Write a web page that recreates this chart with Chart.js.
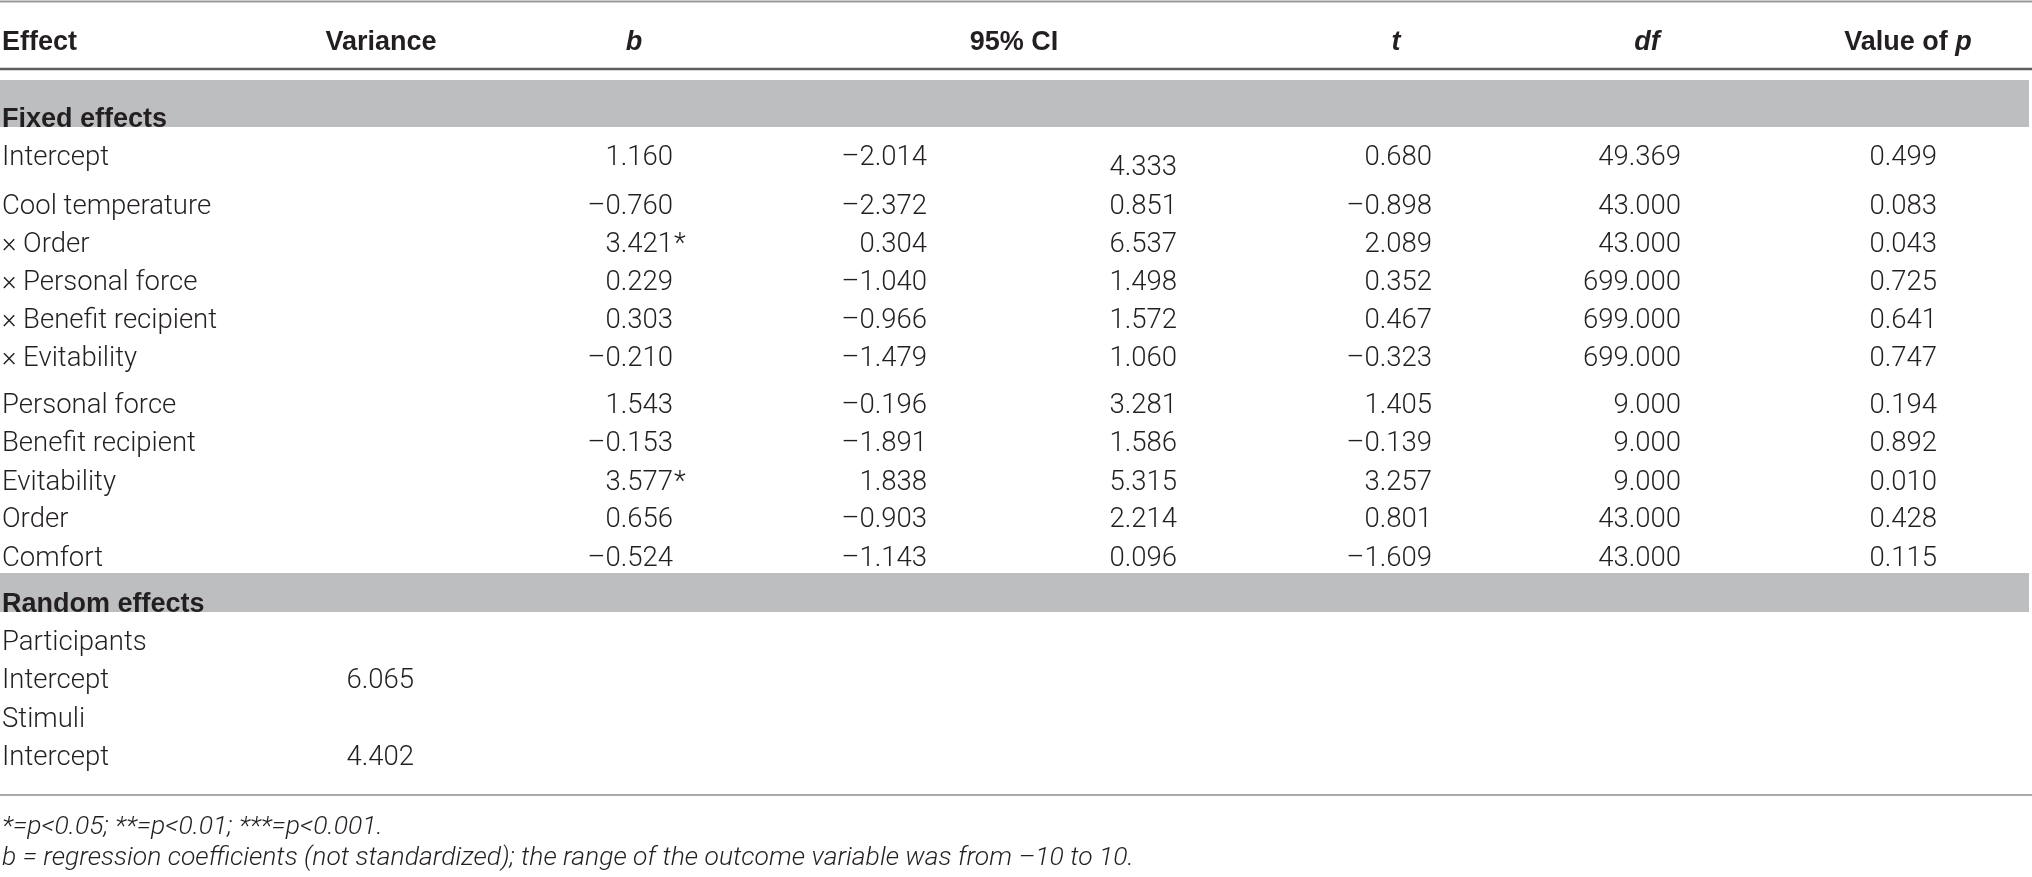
<!DOCTYPE html>
<html>
<head>
<meta charset="utf-8">
<script src="https://cdn.jsdelivr.net/npm/chart.js@4.4.1/dist/chart.umd.min.js"></script>
<style>
html, body { margin: 0; padding: 0; background: #fff; overflow: hidden; }
#wrap { width: 2032px; height: 877px; position: relative; }
</style>
</head>
<body>
<div id="wrap"><canvas id="tbl"></canvas></div>
<script>
// table contents
var headers = ["Effect", "Variance", "_b_", "95% CI", "_t_", "_df_", "Value of _p_"];
var fixedLabels = ["Intercept", "Cool temperature", "\u00d7 Order", "\u00d7 Personal force", "\u00d7 Benefit recipient", "\u00d7 Evitability",
                   "Personal force", "Benefit recipient", "Evitability", "Order", "Comfort"];
var bValues  = [1.160, -0.760, 3.421, 0.229, 0.303, -0.210, 1.543, -0.153, 3.577, 0.656, -0.524];
var ciLow    = [-2.014, -2.372, 0.304, -1.040, -0.966, -1.479, -0.196, -1.891, 1.838, -0.903, -1.143];
var ciHigh   = [4.333, 0.851, 6.537, 1.498, 1.572, 1.060, 3.281, 1.586, 5.315, 2.214, 0.096];
var tValues  = [0.680, -0.898, 2.089, 0.352, 0.467, -0.323, 1.405, -0.139, 3.257, 0.801, -1.609];
var dfValues = [49.369, 43, 43, 699, 699, 699, 9, 9, 9, 43, 43];
var pValues  = [0.499, 0.083, 0.043, 0.725, 0.641, 0.747, 0.194, 0.892, 0.010, 0.428, 0.115];
var randomLabels   = ["Participants", "Intercept", "Stimuli", "Intercept"];
var varianceValues = [null, 6.065, null, 4.402];
var sections = ["Fixed effects", "Random effects"];
var notes = ["*=p<0.05; **=p<0.01; ***=p<0.001.",
             "b = regression coefficients (not standardized); the range of the outcome variable was from \u201310 to 10."];

// layout: text baselines, in scale units (= px of the 2032x877 page)
var fixedRowY  = [165, 214, 252, 290, 328, 366, 413, 451, 490, 527, 566];
var randomRowY = [650, 688, 727, 765];
var headerY = 50, sectionY = [127, 612], noteY = [834, 865];
var bandY = [[80, 127], [573, 612]];
var headerX = [2, 381, 634, 1014, 1396, 1647, 1908];
var col = { label: 2, variance: 414, b: 673, ciLow: 927, ciHigh: 1177, t: 1432, df: 1681, p: 1937 };

var INK = '#231f20';
var BODY = 'Roboto';
var BOLD = '"Liberation Sans"';

function fmt(v) {
    var s = Math.abs(v).toFixed(3);
    return (v < 0 ? '\u2013' : '') + s;
}

function stars(p) {
    if (p < 0.001) return '***';
    if (p < 0.01) return '**';
    if (p < 0.05) return '*';
    return '';
}

// draws "a _b_ c" with the underscored bits in italic
function richText(ctx, str, x, y, weight, size, family, align) {
    var parts = str.split('_');
    var w = 0, i;
    for (i = 0; i < parts.length; i++) {
        ctx.font = (i % 2 ? 'italic ' : '') + weight + ' ' + size + 'px ' + family;
        w += ctx.measureText(parts[i]).width;
    }
    var cx = align === 'center' ? x - w / 2 : x;
    ctx.textAlign = 'left';
    for (i = 0; i < parts.length; i++) {
        ctx.font = (i % 2 ? 'italic ' : '') + weight + ' ' + size + 'px ' + family;
        ctx.fillText(parts[i], cx, y);
        cx += ctx.measureText(parts[i]).width;
    }
}

var tablePlugin = {
    id: 'tablePlugin',
    afterDraw: function (chart) {
        var ctx = chart.ctx;
        var xs = chart.scales.x, ys = chart.scales.y;
        var X = function (v) { return xs.getPixelForValue(v); };
        var Y = function (v) { return ys.getPixelForValue(v); };
        ctx.save();

        // grey section bands
        ctx.fillStyle = '#bcbec0';
        bandY.forEach(function (b) {
            ctx.fillRect(X(0), Y(b[0]), X(2029) - X(0), Y(b[1]) - Y(b[0]));
        });

        // rules
        function rule(y, w, c) {
            ctx.strokeStyle = c; ctx.lineWidth = w;
            ctx.beginPath(); ctx.moveTo(X(0), Y(y)); ctx.lineTo(X(2032), Y(y)); ctx.stroke();
        }
        rule(1.5, 2, '#97999c');
        rule(69, 2.5, '#5d5e60');
        rule(795, 2, '#a8aaad');

        ctx.fillStyle = INK;
        ctx.textBaseline = 'alphabetic';

        // header row
        headers.forEach(function (h, i) {
            richText(ctx, h, X(headerX[i]), Y(headerY), 'bold', 27, BOLD, i === 0 ? 'left' : 'center');
        });

        // section labels
        sections.forEach(function (s, i) {
            richText(ctx, s, X(col.label), Y(sectionY[i]), 'bold', 27, BOLD, 'left');
        });

        // fixed effects
        var body = '300 27.5px ' + BODY;
        fixedLabels.forEach(function (lab, i) {
            var y = Y(fixedRowY[i]);
            ctx.font = body;
            ctx.textAlign = 'left';
            ctx.fillText(lab, X(col.label), y);
            ctx.textAlign = 'right';
            ctx.fillText(fmt(bValues[i]), X(col.b), y);
            ctx.fillText(fmt(ciLow[i]), X(col.ciLow), y);
            ctx.fillText(fmt(ciHigh[i]), X(col.ciHigh), i === 0 ? Y(fixedRowY[i] + 10) : y);
            ctx.fillText(fmt(tValues[i]), X(col.t), y);
            ctx.fillText(fmt(dfValues[i]), X(col.df), y);
            ctx.fillText(fmt(pValues[i]), X(col.p), y);
            var st = stars(pValues[i]);
            if (st) {
                ctx.textAlign = 'left';
                ctx.fillText(st, X(col.b) + 1, y);
            }
        });

        // random effects
        randomLabels.forEach(function (lab, i) {
            var y = Y(randomRowY[i]);
            ctx.font = body;
            ctx.textAlign = 'left';
            ctx.fillText(lab, X(col.label), y);
            if (varianceValues[i] !== null) {
                ctx.textAlign = 'right';
                ctx.fillText(fmt(varianceValues[i]), X(col.variance), y);
            }
        });

        // notes
        ctx.font = 'italic 300 26.5px ' + BODY;
        ctx.textAlign = 'left';
        notes.forEach(function (n, i) {
            ctx.fillText(n, X(col.label), Y(noteY[i]));
        });

        ctx.restore();
    }
};

function build() {
    new Chart(document.getElementById('tbl'), {
        type: 'scatter',
        data: { datasets: [{ data: [], pointRadius: 0 }] },
        options: {
            responsive: true,
            maintainAspectRatio: false,
            animation: false,
            layout: { padding: 0 },
            plugins: { legend: { display: false }, tooltip: { enabled: false } },
            scales: {
                x: { type: 'linear', min: 0, max: 2032, display: false },
                y: { type: 'linear', min: 0, max: 877, reverse: true, display: false }
            }
        },
        plugins: [tablePlugin]
    });
}

Promise.all([
    document.fonts.load('300 27.5px Roboto'),
    document.fonts.load('italic 300 26.5px Roboto'),
    document.fonts.load('bold 27px "Liberation Sans"'),
    document.fonts.load('italic bold 27px "Liberation Sans"')
]).then(build, build);
</script>
</body>
</html>
